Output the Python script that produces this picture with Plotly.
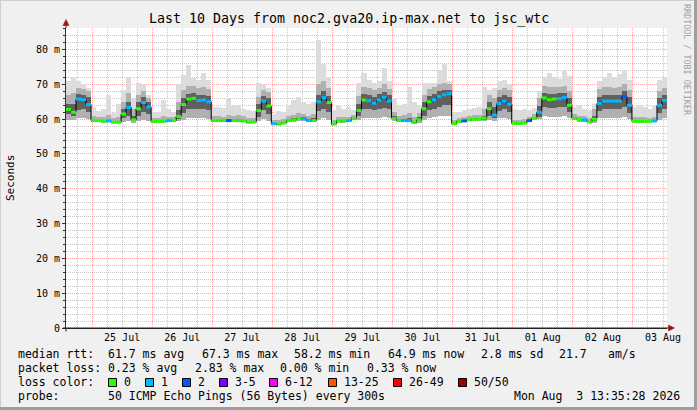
import plotly.graph_objects as go
import pandas as pd

# ---------------- data ----------------
start_time = "2026-07-24 13:35:28"
end_time = "2026-08-03 13:35:28"
bin_hours = 2

day_labels = ["25 Jul", "26 Jul", "27 Jul", "28 Jul", "29 Jul", "30 Jul",
              "31 Jul", "01 Aug", "02 Aug", "03 Aug"]
day_label_times = ["2026-07-25 12:00", "2026-07-26 12:00", "2026-07-27 12:00",
                   "2026-07-28 12:00", "2026-07-29 12:00", "2026-07-30 12:00",
                   "2026-07-31 12:00", "2026-08-01 12:00", "2026-08-02 12:00",
                   "2026-08-03 12:00"]
y_tick_vals = [0, 10, 20, 30, 40, 50, 60, 70, 80]
y_tick_text = ["0", "10 m", "20 m", "30 m", "40 m", "50 m", "60 m", "70 m", "80 m"]

# median rtt per 2 h bin (ms)
median = [
    62.8, 62.0, 65.8, 65.6, 64.2, 59.6, 59.6, 59.4, 59.5, 59.1,
    59.1, 61.5, 63.4, 59.8, 63.0, 64.8, 63.5, 59.3, 59.4, 59.4,
    59.6, 59.6, 60.8, 64.2, 65.8, 66.0, 65.4, 65.5, 65.0, 59.6,
    59.6, 59.6, 59.6, 59.6, 59.6, 59.5, 59.1, 59.2, 62.5, 65.2,
    63.8, 58.7, 58.6, 58.9, 59.6, 59.8, 60.2, 60.1, 59.6, 59.6,
    65.0, 66.2, 64.8, 58.6, 59.5, 59.5, 59.6, 60.2, 62.5, 65.5,
    65.3, 64.6, 65.5, 66.3, 65.2, 60.2, 59.6, 59.6, 59.6, 59.1,
    59.8, 63.0, 65.0, 65.6, 66.5, 67.0, 67.3, 58.7, 59.4, 59.5,
    59.8, 60.0, 60.0, 60.3, 63.0, 61.2, 64.5, 65.2, 64.3, 58.8,
    58.8, 58.9, 59.6, 60.3, 62.0, 66.1, 65.6, 65.8, 65.9, 66.2,
    64.0, 60.2, 59.8, 59.8, 59.2, 60.0, 64.5, 65.2, 65.2, 65.2,
    65.2, 66.5, 64.0, 59.4, 59.4, 59.4, 59.4, 59.5, 64.0, 65.4,
]
# lost pings per bin (of 50)
loss = [
    0, 0, 1, 1, 1, 0, 0, 0, 1, 0,
    0, 0, 1, 0, 0, 1, 1, 0, 0, 0,
    1, 0, 0, 0, 0, 0, 1, 1, 1, 0,
    0, 0, 2, 0, 0, 0, 0, 0, 0, 1,
    0, 1, 0, 0, 0, 0, 0, 1, 1, 0,
    1, 1, 0, 0, 0, 0, 1, 0, 0, 0,
    1, 1, 1, 1, 1, 0, 0, 1, 1, 0,
    0, 0, 0, 1, 1, 1, 1, 0, 0, 2,
    0, 0, 0, 0, 0, 1, 1, 1, 1, 0,
    0, 0, 2, 0, 1, 0, 0, 0, 1, 1,
    0, 0, 0, 1, 0, 0, 1, 1, 1, 1,
    1, 2, 1, 0, 0, 0, 0, 1, 1, 1,
]
# smoke: distribution of the 50 pings per bin
smoke_lo = [
    59.8, 59.7, 60.2, 60.3, 60.0, 59.2, 59.2, 59.0, 59.1, 58.8,
    58.8, 59.3, 59.5, 59.0, 59.5, 59.8, 59.5, 58.9, 59.0, 59.0,
    59.2, 59.2, 59.4, 59.8, 60.2, 60.3, 60.2, 60.2, 60.0, 59.2,
    59.2, 59.2, 59.2, 59.2, 59.2, 59.1, 58.8, 58.8, 59.4, 60.0,
    59.6, 58.3, 58.2, 58.5, 59.2, 59.3, 59.6, 59.5, 59.2, 59.2,
    59.8, 60.3, 59.8, 58.2, 59.0, 59.0, 59.2, 59.7, 59.8, 60.4,
    60.3, 60.2, 60.4, 60.5, 60.3, 59.6, 59.2, 59.2, 59.2, 58.7,
    59.0, 59.8, 60.3, 60.5, 60.8, 61.0, 61.0, 58.3, 59.0, 59.1,
    59.4, 59.6, 59.6, 59.6, 59.8, 59.6, 60.2, 60.3, 60.0, 58.4,
    58.4, 58.5, 59.2, 59.8, 60.0, 60.8, 60.6, 60.6, 60.7, 60.8,
    60.2, 59.7, 59.3, 59.3, 58.8, 59.0, 60.2, 60.4, 60.4, 60.4,
    60.4, 60.7, 60.0, 59.0, 59.0, 59.0, 59.0, 59.1, 59.8, 60.3,
]
smoke_q1 = [
    61.5, 61.0, 62.5, 62.8, 62.0, 59.4, 59.4, 59.2, 59.3, 59.0,
    59.0, 60.2, 61.0, 59.4, 61.0, 62.0, 61.5, 59.1, 59.2, 59.2,
    59.4, 59.4, 60.0, 61.8, 62.8, 63.0, 62.8, 62.8, 62.5, 59.4,
    59.4, 59.4, 59.4, 59.4, 59.4, 59.3, 59.0, 59.0, 60.5, 62.5,
    61.5, 58.5, 58.4, 58.7, 59.4, 59.6, 59.9, 59.8, 59.4, 59.4,
    62.3, 63.0, 62.0, 58.4, 59.3, 59.3, 59.4, 60.0, 60.8, 63.0,
    62.8, 62.5, 63.0, 63.3, 62.8, 59.9, 59.4, 59.4, 59.4, 58.9,
    59.4, 61.0, 62.5, 63.0, 63.5, 64.0, 64.0, 58.5, 59.2, 59.3,
    59.6, 59.8, 59.8, 59.9, 61.0, 60.3, 62.3, 62.8, 62.0, 58.6,
    58.6, 58.7, 59.4, 60.0, 60.6, 63.5, 63.2, 63.3, 63.4, 63.5,
    62.0, 59.9, 59.6, 59.6, 59.0, 59.4, 62.3, 62.8, 62.8, 62.8,
    62.8, 63.5, 61.8, 59.2, 59.2, 59.2, 59.2, 59.3, 61.8, 62.8,
]
smoke_q3 = [
    64.5, 64.5, 67.2, 67.0, 66.5, 59.9, 59.9, 59.7, 59.9, 59.4,
    59.5, 63.0, 65.0, 61.0, 64.8, 66.3, 65.0, 59.6, 59.7, 59.8,
    59.9, 59.9, 62.5, 66.0, 67.3, 67.5, 67.0, 67.0, 66.8, 59.9,
    59.9, 59.9, 60.0, 60.0, 60.0, 59.9, 59.5, 59.5, 64.5, 66.8,
    66.0, 59.0, 58.9, 59.2, 59.9, 60.2, 60.6, 60.5, 60.0, 60.2,
    67.0, 68.0, 66.8, 59.0, 59.8, 59.8, 59.9, 60.5, 64.5, 67.2,
    67.0, 66.5, 67.2, 67.8, 67.0, 60.8, 60.0, 60.0, 60.2, 59.5,
    60.5, 65.0, 66.8, 67.3, 68.0, 68.5, 68.5, 59.0, 59.7, 59.8,
    60.1, 60.3, 60.3, 61.0, 65.0, 63.5, 66.5, 67.0, 66.3, 59.1,
    59.1, 59.2, 59.9, 60.6, 63.8, 67.6, 67.2, 67.3, 67.4, 67.6,
    66.0, 60.6, 60.1, 60.1, 59.5, 61.0, 66.5, 67.0, 67.0, 67.0,
    67.0, 68.0, 66.3, 59.7, 59.7, 59.7, 59.7, 59.8, 66.0, 67.0,
]
smoke_hi = [
    67.0, 67.5, 69.0, 68.8, 68.0, 60.8, 60.6, 60.5, 61.2, 60.2,
    60.6, 65.0, 67.5, 63.0, 67.0, 68.0, 66.0, 60.3, 60.4, 60.8,
    60.6, 60.5, 65.0, 68.5, 69.5, 69.5, 69.0, 69.3, 68.8, 60.8,
    60.8, 60.7, 61.2, 61.0, 61.2, 60.8, 60.3, 60.2, 66.5, 68.5,
    67.8, 59.8, 59.8, 60.0, 60.8, 61.2, 61.8, 61.5, 61.0, 61.5,
    70.0, 71.0, 69.0, 59.8, 60.6, 60.5, 60.7, 61.3, 66.8, 69.3,
    69.0, 68.5, 69.0, 70.0, 68.8, 62.0, 61.0, 61.2, 61.8, 60.5,
    61.8, 67.0, 68.8, 69.3, 70.0, 70.5, 70.0, 59.8, 60.4, 60.6,
    60.9, 61.1, 61.3, 63.0, 67.0, 66.0, 68.5, 69.0, 68.3, 59.9,
    59.9, 60.0, 60.6, 61.4, 66.0, 69.5, 69.2, 69.2, 69.3, 69.6,
    68.2, 61.5, 61.0, 60.9, 60.3, 63.0, 68.8, 69.2, 69.3, 69.0,
    69.2, 70.0, 68.3, 60.5, 60.6, 60.5, 60.4, 60.6, 68.0, 69.0,
]
smoke_max = [
    70.9, 72.1, 70.9, 70.0, 69.0, 63.6, 62.4, 62.8, 67.0, 61.8,
    64.5, 68.4, 72.1, 66.0, 70.4, 70.0, 67.0, 62.0, 62.2, 65.5,
    62.8, 62.0, 70.0, 72.7, 75.6, 71.8, 71.2, 73.3, 71.2, 63.5,
    63.6, 63.2, 66.0, 63.8, 64.1, 63.0, 62.5, 62.3, 70.3, 70.1,
    69.0, 61.5, 62.3, 62.0, 63.9, 65.5, 66.3, 65.0, 64.5, 64.8,
    82.8, 76.0, 72.0, 62.5, 64.0, 63.0, 63.5, 62.6, 70.4, 73.3,
    71.3, 70.5, 71.0, 74.6, 71.0, 66.0, 64.0, 64.5, 69.3, 65.0,
    64.0, 70.3, 70.4, 70.5, 74.0, 76.0, 71.0, 62.2, 62.2, 62.5,
    63.0, 63.2, 63.5, 69.3, 68.5, 69.0, 71.0, 71.3, 70.0, 63.0,
    62.5, 63.0, 62.6, 63.2, 68.0, 72.0, 73.2, 72.0, 71.5, 74.0,
    72.5, 63.6, 64.1, 63.0, 62.5, 64.5, 71.0, 72.0, 73.2, 72.0,
    73.0, 73.8, 71.3, 63.5, 64.0, 63.6, 63.0, 64.0, 71.3, 72.2,
]

loss_names = ["0", "1", "2", "3-5", "6-12", "13-25", "26-49", "50/50"]
loss_colors = ["#26ff00", "#00b8ff", "#0059ff", "#7e00ff", "#ff00ff",
               "#ff5500", "#ff0000", "#a10000"]

title_text = "Last 10 Days from noc2.gva20.ip-max.net to jsc_wtc"
row_median = ["median rtt:", "61.7 ms avg", "67.3 ms max", "58.2 ms min",
              "64.9 ms now", "2.8 ms sd", "21.7", "am/s"]
row_loss = ["packet loss:", "0.23 % avg", "2.83 % max", "0.00 % min", "0.33 % now"]
row_probe = ["probe:", "50 ICMP Echo Pings (56 Bytes) every 300s",
             "Mon Aug\u00a0\u00a03 13:35:28 2026"]

# ---------------- layout geometry ----------------
W, H = 697, 410
L, R, T, B = 66, 667, 28, 328
Y_MAX = 86.2
MONO = "DejaVu Sans Mono"


def fx(px):
    return (px - L) / (R - L)


def fy(py):
    return (B - py) / (B - T)


n = len(median)
t0 = pd.Timestamp(start_time)
t_end = pd.Timestamp(end_time)
step = pd.Timedelta(hours=bin_hours)
bin_start = [t0 + i * step for i in range(n)]
bin_mid = [b + step / 2 for b in bin_start]
bar_w = bin_hours * 3600 * 1000

fig = go.Figure()


def smoke_bar(lo, hi, color):
    fig.add_trace(go.Bar(
        x=bin_mid, base=lo, y=[h - l for h, l in zip(hi, lo)], width=bar_w,
        marker=dict(color=color, line=dict(width=0)),
        hoverinfo="skip", showlegend=False, xaxis="x", yaxis="y"))


smoke_bar(smoke_lo, smoke_max, "#dcdcdc")
smoke_bar(smoke_lo, smoke_hi, "#b0b0b0")
smoke_bar(smoke_q1, smoke_q3, "#606060")

# black median step line
fig.add_trace(go.Scatter(
    x=bin_start + [t_end], y=median + [median[-1]], mode="lines",
    line=dict(color="#000000", width=1, shape="hv"),
    hoverinfo="skip", showlegend=False, xaxis="x", yaxis="y"))

# coloured median segments by loss
for cat in sorted(set(loss)):
    xs, ys = [], []
    for i in range(n):
        if loss[i] == cat:
            xs += [bin_start[i], bin_start[i] + step, None]
            ys += [median[i], median[i], None]
    fig.add_trace(go.Scatter(
        x=xs, y=ys, mode="lines",
        line=dict(color=loss_colors[cat], width=3),
        hoverinfo="skip", showlegend=False, xaxis="x", yaxis="y"))

# dummy trace for the overlay grid axes (grid drawn above the smoke)
fig.add_trace(go.Scatter(x=[t0], y=[0], mode="markers", marker=dict(opacity=0),
                         hoverinfo="skip", showlegend=False, xaxis="x2", yaxis="y2"))

red_grid = "rgba(255,0,0,0.36)"
gray_grid = "rgba(130,130,130,0.45)"

fig.update_layout(
    width=W, height=H, autosize=False,
    margin=dict(l=L, r=W - R, t=T, b=H - B, pad=0),
    paper_bgcolor="#f0f0f0", plot_bgcolor="#ffffff",
    barmode="overlay", bargap=0, showlegend=False,
    font=dict(family=MONO, size=10, color="#000000"),
    xaxis=dict(type="date", range=[t0, t_end], showgrid=False, zeroline=False,
               tickmode="array", tickvals=day_label_times, ticktext=day_labels,
               ticks="", showline=True, linecolor="#222222", linewidth=1,
               tickfont=dict(family=MONO, size=10, color="#000000"), fixedrange=True),
    yaxis=dict(range=[0, Y_MAX], showgrid=False, zeroline=False,
               tickmode="array", tickvals=y_tick_vals, ticktext=y_tick_text,
               ticks="outside", ticklen=3, tickcolor="#333333",
               showline=True, linecolor="#333333", linewidth=1,
               tickfont=dict(family=MONO, size=10, color="#000000"), fixedrange=True),
    xaxis2=dict(type="date", range=[t0, t_end], overlaying="x", anchor="y2",
                tickmode="linear", tick0="2026-07-25 00:00", dtick=86400000,
                showticklabels=False, ticks="", showline=False, zeroline=False,
                showgrid=True, gridcolor=red_grid, gridwidth=1, griddash="1px,1px",
                minor=dict(tickmode="linear", tick0="2026-07-25 00:00", dtick=21600000,
                           showgrid=True, gridcolor=gray_grid, gridwidth=1,
                           griddash="1px,1px", ticks=""),
                fixedrange=True),
    yaxis2=dict(range=[0, Y_MAX], overlaying="y", anchor="x2",
                tickmode="linear", tick0=0, dtick=10, showticklabels=False,
                ticks="", showline=False, zeroline=False,
                showgrid=True, gridcolor=red_grid, gridwidth=1, griddash="1px,1px",
                minor=dict(tickmode="linear", tick0=0, dtick=2, showgrid=True,
                           gridcolor=gray_grid, gridwidth=1, griddash="1px,1px",
                           ticks="outside", ticklen=2, tickcolor="#333333"),
                fixedrange=True),
)

shapes = []
ann = []

# frame of the canvas
shapes.append(dict(type="line", xref="paper", yref="paper", x0=fx(0), x1=fx(W),
                   y0=fy(0.5), y1=fy(0.5), line=dict(color="#cfcfcf", width=1)))
shapes.append(dict(type="line", xref="paper", yref="paper", x0=fx(0.5), x1=fx(0.5),
                   y0=fy(0), y1=fy(H), line=dict(color="#cfcfcf", width=1)))
shapes.append(dict(type="line", xref="paper", yref="paper", x0=fx(0), x1=fx(W),
                   y0=fy(H - 1.5), y1=fy(H - 1.5), line=dict(color="#9e9e9e", width=3)))
shapes.append(dict(type="line", xref="paper", yref="paper", x0=fx(W - 1.5), x1=fx(W - 1.5),
                   y0=fy(0), y1=fy(H), line=dict(color="#9e9e9e", width=3)))

# axis extensions, start tick and arrows
shapes.append(dict(type="line", xref="paper", yref="paper", x0=0, x1=0,
                   y0=1, y1=fy(22), line=dict(color="#333333", width=1)))
shapes.append(dict(type="line", xref="paper", yref="paper", x0=fx(63), x1=fx(671),
                   y0=0, y1=0, line=dict(color="#222222", width=1)))
shapes.append(dict(type="line", xref="paper", yref="paper", x0=0, x1=0,
                   y0=0, y1=fy(331.5), line=dict(color="#222222", width=1)))
shapes.append(dict(type="path", xref="paper", yref="paper",
                   path="M %f,%f L %f,%f L %f,%f Z" % (fx(63), fy(25.5), fx(69), fy(25.5), fx(66), fy(19.5)),
                   fillcolor="#a01010", line=dict(color="#a01010", width=0.5)))
shapes.append(dict(type="path", xref="paper", yref="paper",
                   path="M %f,%f L %f,%f L %f,%f Z" % (fx(668.5), fy(325), fx(668.5), fy(331), fx(674.5), fy(328)),
                   fillcolor="#a01010", line=dict(color="#a01010", width=0.5)))


def text(px, py, s, size=11.5, anchor="left", color="#000000", angle=0):
    ann.append(dict(xref="paper", yref="paper", x=fx(px), y=fy(py), text=s,
                    showarrow=False, xanchor=anchor, yanchor="middle",
                    borderpad=0, textangle=angle,
                    font=dict(family=MONO, size=size, color=color)))


text(348.5, 19, title_text, size=13.3, anchor="center")
text(10, 178, "Seconds", size=11, anchor="center", angle=-90)
text(687, 60, "RRDTOOL / TOBI OETIKER", size=8.4, anchor="center", color="#a0a0a0", angle=90)

# legend rows
row1_x = [16.7, 107.3, 200.7, 293.3, 386.7, 480.0, 558.3, 606.7]
for s, px in zip(row_median, row1_x):
    text(px, 354, s)
row2_x = [16.7, 107.3, 194.0, 279.3, 365.7]
for s, px in zip(row_loss, row2_x):
    text(px, 368.3, s)
text(16.7, 382.3, "loss color:")
box_x = [108.5, 145.5, 182.5, 219.5, 269.5, 328.5, 393.5, 458.5]
for name, col, bx in zip(loss_names, loss_colors, box_x):
    shapes.append(dict(type="rect", xref="paper", yref="paper",
                       x0=fx(bx), x1=fx(bx + 8), y0=fy(378.5), y1=fy(386.5),
                       fillcolor=col, line=dict(color="#000000", width=1)))
    text(bx + 14.5, 382.3, name)
text(16.7, 396.3, row_probe[0])
text(107.3, 396.3, row_probe[1])
text(680.7, 396.3, row_probe[2], anchor="right")

fig.update_layout(shapes=shapes, annotations=ann)
fig.write_html("out.html", config={"displayModeBar": False, "staticPlot": True},
               post_script="document.body.style.margin='0';document.body.style.padding='0';")
